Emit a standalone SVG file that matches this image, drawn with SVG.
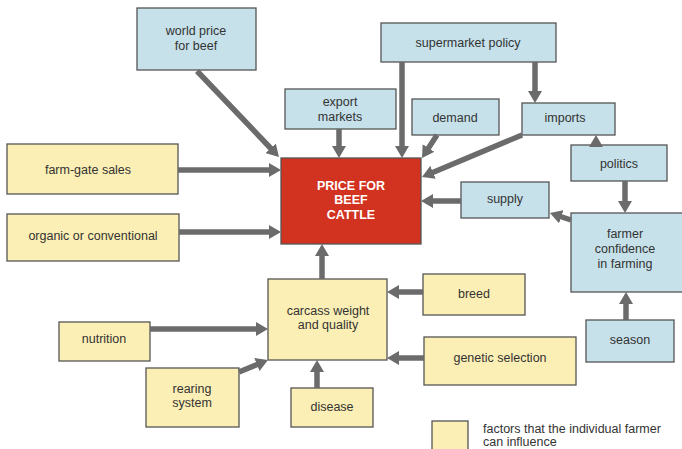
<svg xmlns="http://www.w3.org/2000/svg" width="682" height="449" viewBox="0 0 682 449">
<defs>
<style>
.b{fill:#c6e1ea;stroke:#555;stroke-width:1.3}
.y{fill:#fcefb5;stroke:#555;stroke-width:1.3}
.r{fill:#d23220;stroke:#555;stroke-width:1.3}
text{font-family:"Liberation Sans",Arial,sans-serif;font-size:12.5px;fill:#333;text-anchor:middle}
.w{fill:#fff;font-weight:bold;font-size:12.5px}
.l{text-anchor:start}
.c line{stroke:#6b6b6b;stroke-width:5.5;marker-end:url(#ah)}
</style>
<marker id="ah" markerUnits="userSpaceOnUse" markerWidth="12" markerHeight="14" refX="1" refY="7" orient="auto" viewBox="0 0 12 14">
<path d="M0,0 L12,7 L0,14 z" fill="#6b6b6b"/>
</marker>
</defs>
<rect width="682" height="449" fill="#fff"/>

<g id="world-price"><rect class="b" x="137" y="8" width="119" height="62"/><text x="196" y="35">world price</text><text x="196" y="50">for beef</text></g>
<g id="export-markets"><rect class="b" x="285" y="89" width="111" height="40"/><text x="340" y="106">export</text><text x="340" y="121">markets</text></g>
<g id="supermarket-policy"><rect class="b" x="381" y="23" width="175" height="39"/><text x="468" y="47">supermarket policy</text></g>
<g id="demand"><rect class="b" x="412" y="99" width="87" height="36"/><text x="455" y="122">demand</text></g>
<g id="imports"><rect class="b" x="522" y="103" width="93" height="32"/><text x="565" y="122">imports</text></g>
<g id="politics"><rect class="b" x="571" y="145" width="96" height="36"/><text x="619" y="168">politics</text></g>
<g id="supply"><rect class="b" x="461" y="182" width="88" height="36"/><text x="505" y="203">supply</text></g>
<g id="farmer-confidence"><rect class="b" x="571" y="213" width="112" height="79"/><text x="625" y="238">farmer</text><text x="625" y="253">confidence</text><text x="625" y="268">in farming</text></g>
<g id="season"><rect class="b" x="586" y="320" width="88" height="42"/><text x="630" y="344">season</text></g>
<g id="price"><rect class="r" x="281" y="158" width="140" height="86"/><text class="w" x="351" y="190">PRICE FOR</text><text class="w" x="351" y="204">BEEF</text><text class="w" x="351" y="219">CATTLE</text></g>
<g id="farm-gate"><rect class="y" x="7" y="144" width="171" height="50"/><text x="88" y="174">farm-gate sales</text></g>
<g id="organic"><rect class="y" x="7" y="214" width="172" height="47"/><text x="93" y="240">organic or conventional</text></g>
<g id="carcass"><rect class="y" x="268" y="279" width="119" height="81"/><text x="328" y="315">carcass weight</text><text x="328" y="329">and quality</text></g>
<g id="nutrition"><rect class="y" x="59" y="322" width="91" height="39"/><text x="104" y="343">nutrition</text></g>
<g id="rearing"><rect class="y" x="146" y="368" width="93" height="59"/><text x="192" y="393">rearing</text><text x="192" y="407">system</text></g>
<g id="disease"><rect class="y" x="291" y="388" width="82" height="39"/><text x="332" y="411">disease</text></g>
<g id="breed"><rect class="y" x="423" y="274" width="102" height="41"/><text x="474" y="298">breed</text></g>
<g id="genetic"><rect class="y" x="424" y="337" width="152" height="48"/><text x="500" y="362">genetic selection</text></g>
<g id="legend"><rect class="y" x="432" y="421" width="36" height="32"/><text class="l" x="483" y="433">factors that the individual farmer</text><text class="l" x="483" y="446">can influence</text></g>

<g class="c" id="connectors">
<line x1="197" y1="71" x2="271.4" y2="149"/>
<line x1="178" y1="170" x2="270" y2="170"/>
<line x1="179" y1="232" x2="270" y2="232"/>
<line x1="339" y1="129" x2="339" y2="147"/>
<line x1="402" y1="62" x2="402" y2="147"/>
<line x1="535" y1="62" x2="535" y2="92"/>
<line x1="437" y1="135" x2="428" y2="148.8"/>
<line x1="522" y1="135" x2="432.1" y2="172.7"/>
<line x1="461" y1="201" x2="432" y2="201"/>
<line x1="596" y1="147" x2="596" y2="146"/>
<line x1="625" y1="181" x2="625" y2="202"/>
<line x1="626" y1="320" x2="626" y2="303"/>
<line x1="571" y1="220" x2="560.4" y2="216.5"/>
<line x1="322" y1="279" x2="322" y2="255"/>
<line x1="423" y1="292" x2="398" y2="292"/>
<line x1="424" y1="358" x2="398" y2="358"/>
<line x1="150" y1="329" x2="257" y2="329"/>
<line x1="239" y1="372" x2="257.8" y2="364.2"/>
<line x1="317" y1="388" x2="317" y2="371"/>
</g>
</svg>
